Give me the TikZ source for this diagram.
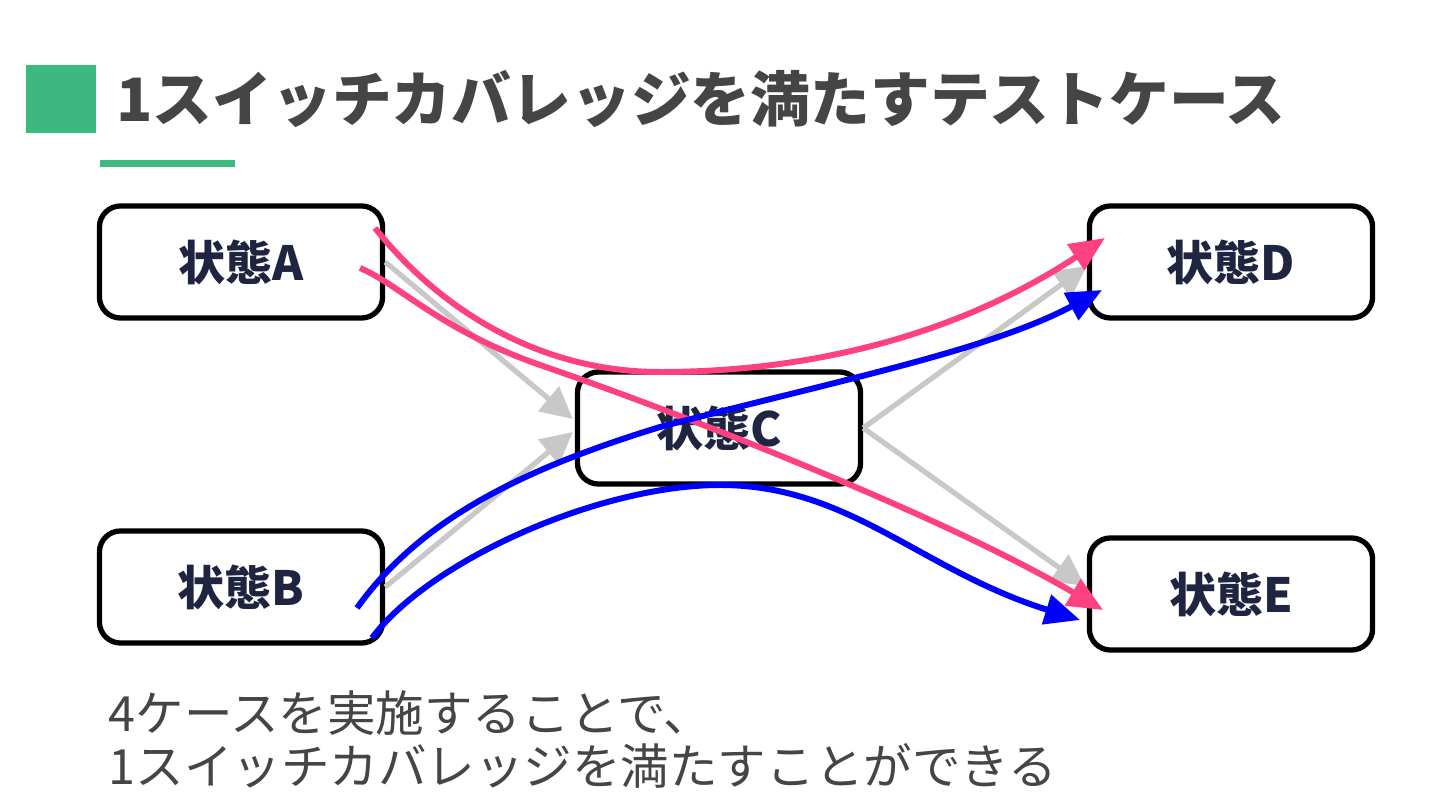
\documentclass[tikz,border=0pt]{standalone}
\usepackage{fontspec}
\setmainfont{Noto Sans CJK JP}
\usepackage{xcolor}
\usepackage{tikz}
\usetikzlibrary{arrows.meta, calc}

\definecolor{titlegreen}{HTML}{3DB87E}
\definecolor{titlegray}{HTML}{454545}
\definecolor{labelnavy}{HTML}{1F2540}
\definecolor{edgegray}{HTML}{C8C8C8}
\definecolor{pathpink}{HTML}{FF4081}
\definecolor{pathblue}{HTML}{0000FF}

\begin{document}
\begin{tikzpicture}[x=0.01cm, y=-0.01cm,
  state/.style={draw, line width=1.5pt, rounded corners=6pt, fill=white,
    minimum width=2.83cm, minimum height=1.12cm, text=labelnavy,
    font=\fontsize{13.4}{16}\selectfont\bfseries},
  flow/.style={line width=1.5pt, edgegray, -{Triangle[length=9pt,width=9pt]}},
  route/.style={line width=1.7pt, -{Triangle[length=10pt,width=8.5pt]}}]
\useasboundingbox (0,0) rectangle (1440,810);

% Title
\fill[titlegreen] (26,65) rectangle (96,133);
\node[anchor=west, text=titlegray, font=\fontsize{17}{20}\selectfont\bfseries] (title) at (104,99) {1スイッチカバレッジを満たすテストケース};
\fill[titlegreen] (100,160) rectangle (235,167);

% States
\node[state] (A) at (241,262) {状態A};
\node[state] (B) at (241,587) {状態B};
\node[state] (C) at (719,428) {状態C};
\node[state] (D) at (1231,262) {状態D};
\node[state] (E) at (1231,594) {状態E};

% Transitions
\draw[flow] (A.east) -- ($(C.west)+(-2,-9)$);
\draw[flow] (B.east) -- ($(C.west)+(-2,4)$);
\draw[flow] (C.east) -- ($(D.west)+(0,4)$);
\draw[flow] (C.east) -- ($(E.west)+(-2,-8)$);

% Test cases
\coordinate (a1) at (375,228);
\coordinate (a2) at (360,268);
\coordinate (b1) at (357,608);
\coordinate (b2) at (372,638);
\draw[route, pathpink] (a1) .. controls (440,310) and (540,372) .. (660,372)
  .. controls (800,372) and (950,340) .. (1105,238);
\draw[route, pathpink] (a2) .. controls (400,285) and (440,330) .. (540,365)
  .. controls (700,420) and (950,520) .. (1103,610);
\draw[route, pathblue] (b1) .. controls (420,520) and (520,470) .. (660,427)
  .. controls (840,380) and (990,350) .. (1102,290);
\draw[route, pathblue] (b2) .. controls (430,560) and (600,485) .. (720,485)
  .. controls (850,485) and (920,570) .. (1080,620);

% Note
\node[anchor=north west, align=left, text=titlegray, inner sep=0pt,
  font=\fontsize{13.8}{15}\selectfont] (note) at (108,690)
  {4ケースを実施することで、\\1スイッチカバレッジを満たすことができる};
\end{tikzpicture}
\end{document}
